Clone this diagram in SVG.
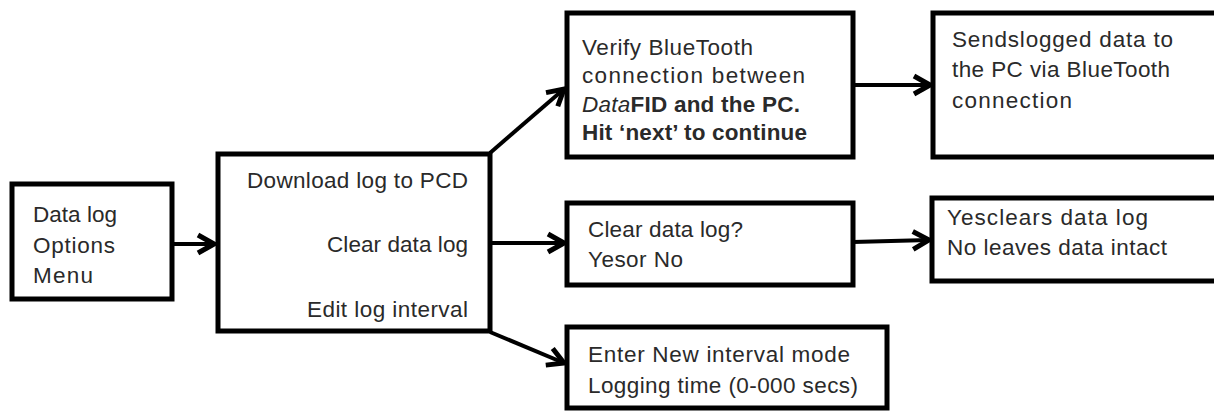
<svg xmlns="http://www.w3.org/2000/svg" width="1214" height="411" viewBox="0 0 1214 411">
  <style>
    .box { fill: #ffffff; stroke: #000000; stroke-width: 5; }
    .t { font-family: "Liberation Sans", Arial, sans-serif; font-size: 22.5px; fill: #2a2a2a; }
    .b { font-weight: bold; }
    .conn { stroke: #000000; stroke-width: 4; fill: none; marker-end: url(#arr); }
  </style>
  <defs>
    <marker id="arr" markerUnits="userSpaceOnUse" markerWidth="24" markerHeight="24" viewBox="0 0 24 24" refX="21" refY="12" orient="auto">
      <path d="M5,3 L21,12 L5,21" fill="none" stroke="#000000" stroke-width="5" stroke-linejoin="miter"/>
    </marker>
  </defs>
  <rect width="1214" height="411" fill="#ffffff"/>

  <g id="connectors">
    <line class="conn" x1="172" y1="244" x2="214" y2="244"/>
    <line class="conn" x1="490" y1="153" x2="564" y2="89"/>
    <line class="conn" x1="490" y1="243" x2="564" y2="243"/>
    <line class="conn" x1="490" y1="332" x2="564" y2="363"/>
    <line class="conn" x1="853" y1="85" x2="930" y2="85"/>
    <line class="conn" x1="853" y1="242" x2="929" y2="240"/>
  </g>

  <g id="n-menu">
    <rect class="box" x="12" y="184" width="160" height="115"/>
    <text class="t" x="33" y="222" textLength="84">Data log</text>
    <text class="t" x="33" y="253" textLength="82">Options</text>
    <text class="t" x="33" y="283" textLength="60">Menu</text>
  </g>

  <g id="n-options">
    <rect class="box" x="218" y="154" width="272" height="177"/>
    <text class="t" x="247" y="188" textLength="221">Download log to PCD</text>
    <text class="t" x="327" y="252" textLength="141">Clear data log</text>
    <text class="t" x="307" y="317" textLength="161">Edit log interval</text>
  </g>

  <g id="n-verify">
    <rect class="box" x="567" y="13" width="286" height="144"/>
    <text class="t" x="582" y="55" textLength="171">Verify BlueTooth</text>
    <text class="t" x="582" y="83" textLength="223">connection between</text>
    <text class="t b" x="582" y="112" textLength="218"><tspan font-style="italic" font-weight="normal">Data</tspan>FID and the PC.</text>
    <text class="t b" x="582" y="140" textLength="225">Hit ‘next’ to continue</text>
  </g>

  <g id="n-sends">
    <rect class="box" x="933" y="13" width="290" height="144"/>
    <text class="t" x="952" y="47" textLength="221">Sendslogged data to</text>
    <text class="t" x="952" y="77" textLength="218">the PC via BlueTooth</text>
    <text class="t" x="952" y="108" textLength="120">connection</text>
  </g>

  <g id="n-clear">
    <rect class="box" x="567" y="203" width="286" height="82"/>
    <text class="t" x="588" y="237" textLength="155">Clear data log?</text>
    <text class="t" x="588" y="267" textLength="95">Yesor No</text>
  </g>

  <g id="n-result">
    <rect class="box" x="932" y="198" width="290" height="83"/>
    <text class="t" x="947" y="225" textLength="201">Yesclears data log</text>
    <text class="t" x="947" y="255" textLength="220">No leaves data intact</text>
  </g>

  <g id="n-interval">
    <rect class="box" x="567" y="327" width="320" height="81"/>
    <text class="t" x="588" y="362" textLength="262">Enter New interval mode</text>
    <text class="t" x="588" y="393" textLength="270">Logging time (0-000 secs)</text>
  </g>
</svg>
